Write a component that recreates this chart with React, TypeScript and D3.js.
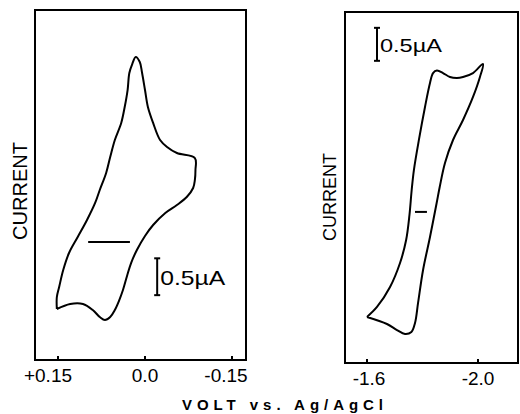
import * as d3 from 'd3';

// left panel: voltammogram near 0 V (V vs Ag/AgCl, current in µA)
const leftTicks = [0.15, 0, -0.15];
const leftTickLabels = ['+0.15', '0.0', '-0.15'];
const leftVolt = [
  0.152, 0.152, 0.148, 0.141, 0.131, 0.116, 0.1, 0.086, 0.078, 0.067, 0.06, 0.052, 0.041, 0.035,
  0.03, 0.027, 0.022, 0.016, 0.009, 0.005, 0.0, -0.005, -0.014, -0.026, -0.038, -0.055, -0.086,
  -0.087, -0.086, -0.083, -0.072, -0.055, -0.035, -0.014, 0.0, 0.014, 0.024, 0.031, 0.038, 0.045,
  0.052, 0.06, 0.069, 0.078, 0.09, 0.107, 0.129, 0.152,
];
const leftCurrent = [
  -0.908, -0.745, -0.609, -0.379, -0.148, 0.069, 0.3, 0.531, 0.707, 0.938, 1.155, 1.386, 1.617, 1.834,
  2.064, 2.295, 2.417, 2.512, 2.444, 2.295, 2.064, 1.834, 1.617, 1.386, 1.291, 1.209, 1.141,
  0.978, 0.843, 0.734, 0.612, 0.503, 0.395, 0.232, 0.083, -0.107, -0.284, -0.46, -0.65, -0.8,
  -0.922, -1.017, -1.058, -1.017, -0.922, -0.84, -0.84, -0.908,
];
const leftZero = [0.098, 0.026];
const leftBar = { volt: -0.021, from: -0.22, to: -0.72 };

// right panel: voltammogram near -1.8 V
const rightTicks = [-1.6, -2.0];
const rightTickLabels = ['-1.6', '-2.0'];
const rightVolt = [
  -1.6, -1.636, -1.683, -1.719, -1.741, -1.753, -1.761, -1.769, -1.787, -1.809, -1.827, -1.838,
  -1.852, -1.874, -1.899, -1.924, -1.946, -1.982, -2.018, -2.007, -1.982, -1.946, -1.91, -1.881,
  -1.862, -1.851, -1.827, -1.802, -1.784, -1.773, -1.76, -1.737, -1.708, -1.672, -1.6,
];
const rightCurrent = [
  -1.592, -1.441, -1.138, -0.774, -0.426, -0.047, 0.332, 0.635, 1.091, 1.591, 1.954, 2.105,
  2.143, 2.105, 2.045, 2.03, 2.045, 2.105, 2.242, 2.045, 1.742, 1.393, 1.09, 0.741,
  0.377, 0.135, -0.38, -0.88, -1.38, -1.684, -1.82, -1.85, -1.79, -1.699, -1.592,
];
const rightZero = [-1.773, -1.816];
const rightBar = { volt: -1.636, from: 2.79, to: 2.29 };

const barLabel = '0.5µA';
const yTitle = 'CURRENT';

const font = "'Liberation Sans', Arial, sans-serif";

type PanelProps = {
  box: { x0: number; x1: number; y0: number; y1: number };
  x: d3.ScaleLinear<number, number>;
  y: d3.ScaleLinear<number, number>;
  volt: number[];
  current: number[];
  zero: number[];
  bar: { volt: number; from: number; to: number };
  ticks: number[];
  tickLabels: string[];
  labelDx: number[];
  titleX: number;
  titleY: number;
  titleSize: number;
  barSize: number;
  barLen: number;
};

function Panel(p: PanelProps) {
  const pts = p.volt.map((v, i) => [v, p.current[i]] as [number, number]);
  const line = d3
    .line<[number, number]>()
    .x((d) => p.x(d[0]))
    .y((d) => p.y(d[1]))
    .curve(d3.curveCatmullRom.alpha(0.5));
  const bx = p.x(p.bar.volt);
  const by0 = p.y(p.bar.from);
  const by1 = p.y(p.bar.to);
  const { x0, x1, y0, y1 } = p.box;
  return (
    <g>
      <path d={`M${x0},${y0}H${x1}V${y1}H${x0}Z`} fill="none" stroke="#000" strokeWidth={2} />
      {p.ticks.map((t, i) => (
        <g key={i}>
          <line x1={p.x(t)} x2={p.x(t)} y1={y1} y2={y1 - 4} stroke="#000" strokeWidth={2} />
          <text
            x={p.x(t) + p.labelDx[i]}
            y={y1 + 22}
            textAnchor="middle"
            fontSize={19}
            fontFamily={font}
          >
            {p.tickLabels[i]}
          </text>
        </g>
      ))}
      <path d={line(pts) ?? ''} fill="none" stroke="#000" strokeWidth={2} strokeLinejoin="round" />
      <line
        x1={p.x(p.zero[0])}
        x2={p.x(p.zero[1])}
        y1={p.y(0)}
        y2={p.y(0)}
        stroke="#000"
        strokeWidth={2}
      />
      <line x1={bx} x2={bx} y1={by0} y2={by1} stroke="#000" strokeWidth={2} />
      <line x1={bx - 3} x2={bx + 3} y1={by0} y2={by0} stroke="#000" strokeWidth={2} />
      <line x1={bx - 3} x2={bx + 3} y1={by1} y2={by1} stroke="#000" strokeWidth={2} />
      <text
        x={bx + 3}
        y={(by0 + by1) / 2 + 8}
        fontSize={p.barSize}
        fontFamily={font}
        textLength={p.barLen}
        lengthAdjust="spacingAndGlyphs"
      >
        {barLabel}
      </text>
      <text
        transform={`translate(${p.titleX},${p.titleY}) rotate(-90)`}
        textAnchor="middle"
        fontSize={p.titleSize}
        fontFamily={font}
      >
        {yTitle}
      </text>
    </g>
  );
}

export default function App() {
  const leftBox = { x0: 35, x1: 246, y0: 10, y1: 360 };
  const rightBox = { x0: 345, x1: 518, y0: 12, y1: 363 };
  const xLeft = d3.scaleLinear().domain([0.15, -0.15]).range([58, 232]);
  const yLeft = d3.scaleLinear().domain([-1.6, 3.15]).range([leftBox.y1, leftBox.y0]);
  const xRight = d3.scaleLinear().domain([-1.6, -2.0]).range([367, 478]);
  const yRight = d3.scaleLinear().domain([-2.29, 3.03]).range([rightBox.y1, rightBox.y0]);

  return (
    <svg
      width={520}
      height={414}
      style={{ position: 'absolute', left: 0, top: 0, background: '#fff' }}
    >
      <Panel
        box={leftBox}
        x={xLeft}
        y={yLeft}
        volt={leftVolt}
        current={leftCurrent}
        zero={leftZero}
        bar={leftBar}
        ticks={leftTicks}
        tickLabels={leftTickLabels}
        labelDx={[-10, 0, -6]}
        titleX={27}
        titleY={191}
        titleSize={20}
        barSize={21}
        barLen={65}
      />
      <Panel
        box={rightBox}
        x={xRight}
        y={yRight}
        volt={rightVolt}
        current={rightCurrent}
        zero={rightZero}
        bar={rightBar}
        ticks={rightTicks}
        tickLabels={rightTickLabels}
        labelDx={[2, 0]}
        titleX={336}
        titleY={197}
        titleSize={18}
        barSize={19}
        barLen={62}
      />
      <text
        x={182}
        y={410}
        fontSize={15}
        fontWeight="bold"
        fontFamily={font}
        textLength={201}
        lengthAdjust="spacing"
      >
        {'VOLT  vs. Ag/AgCl'}
      </text>
    </svg>
  );
}
